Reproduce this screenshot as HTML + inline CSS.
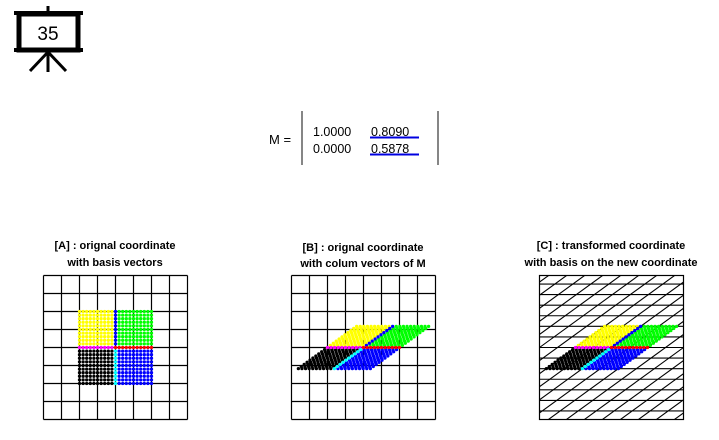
<!DOCTYPE html>
<html><head><style>
body{margin:0;background:#fff;width:719px;height:435px;overflow:hidden;font-family:"Liberation Sans",sans-serif}
</style></head><body>
<svg id="s" width="719" height="435" xmlns="http://www.w3.org/2000/svg">
<rect width="719" height="435" fill="#fff"/>
<g stroke="#000" fill="none">
<rect x="19" y="14" width="59" height="36" stroke-width="5"/>
<line x1="14" y1="13" x2="83" y2="13" stroke-width="4"/>
<line x1="14" y1="50" x2="83" y2="50" stroke-width="4"/>
<line x1="48" y1="6" x2="48" y2="12" stroke-width="3"/>
<line x1="48" y1="50" x2="48" y2="72" stroke-width="3"/>
<line x1="48" y1="52" x2="30" y2="71" stroke-width="3"/>
<line x1="48" y1="52" x2="66" y2="71" stroke-width="3"/>
</g>
<text x="48" y="40" font-size="19" text-anchor="middle">35</text>
<text x="269" y="144" font-size="13">M =</text>
<line x1="302" y1="111" x2="302" y2="165" stroke="#444" stroke-width="1.3"/>
<line x1="438" y1="111" x2="438" y2="165" stroke="#444" stroke-width="1.3"/>
<text x="313" y="136" font-size="12.5">1.0000</text>
<text x="371" y="136" font-size="12.5">0.8090</text>
<text x="313" y="153" font-size="12.5">0.0000</text>
<text x="371" y="153" font-size="12.5">0.5878</text>
<line x1="370" y1="137.5" x2="419" y2="137.5" stroke="#0000e0" stroke-width="2"/>
<line x1="370" y1="154.5" x2="419" y2="154.5" stroke="#0000e0" stroke-width="2"/>
<g font-size="11" font-weight="bold" text-anchor="middle" font-family="Liberation Sans Narrow, Liberation Sans, sans-serif">
<text x="115" y="249">[A] : orignal coordinate</text>
<text x="115" y="266">with basis vectors</text>
<text x="363" y="251">[B] : orignal coordinate</text>
<text x="363" y="267">with colum vectors of M</text>
<text x="611" y="249">[C] : transformed coordinate</text>
<text x="611" y="266">with basis on the new coordinate</text>
</g>
<defs><clipPath id="cc"><rect x="539.5" y="275.5" width="144" height="144"/></clipPath></defs>
<g id="plots"></g>
</svg>
<script>
var NS="http://www.w3.org/2000/svg",g=document.getElementById("plots"),S=18;
function el(t,a,p){var e=document.createElementNS(NS,t);for(var k in a)e.setAttribute(k,a[k]);(p||g).appendChild(e);return e;}
var a=0.809,b=0.5878;
function grid(cx,cy){for(var i=-4;i<=4;i++){el("line",{x1:cx+i*S,y1:cy-72,x2:cx+i*S,y2:cy+72,stroke:"#000","stroke-width":1.2});el("line",{x1:cx-72,y1:cy+i*S,x2:cx+72,y2:cy+i*S,stroke:"#000","stroke-width":1.2});}}
grid(115.5,347.5);grid(363.5,347.5);
var cg=el("g",{"clip-path":"url(#cc)"});var cx=611.5,cy=347.5;
for(var k=-8;k<=8;k++){el("line",{x1:cx-80,y1:cy-k*b*S,x2:cx+80,y2:cy-k*b*S,stroke:"#000","stroke-width":1.1},cg);}
for(var k=-12;k<=12;k++){var t=10;el("line",{x1:cx+(k-a*t)*S,y1:cy+b*t*S,x2:cx+(k+a*t)*S,y2:cy-b*t*S,stroke:"#000","stroke-width":1.1},cg);}
el("rect",{x:539.5,y:275.5,width:144,height:144,fill:"none",stroke:"#000","stroke-width":1.2});
function col(x,y){if(Math.abs(y)<1e-6)return x<0?"#f0f":"#f00";if(Math.abs(x)<1e-6)return y>0?"#00f":"#0ff";
if(x<0&&y>0)return "#ff0";if(x>0&&y>0)return "#0f0";if(x<0&&y<0)return "#000";return "#00f";}
function dots(cx,cy,tr){var L=[];for(var i=-10;i<=10;i++)for(var j=-10;j<=10;j++){var x=i/5,y=j/5;var c=col(x,y);var pri=(Math.abs(x)<1e-6||Math.abs(y)<1e-6)?1:0;L.push([x,y,c,pri]);}
L.sort(function(p,q){return p[3]-q[3];});
L.forEach(function(p){var X=p[0],Y=p[1];if(tr){X=p[0]+a*p[1];Y=b*p[1];}el("circle",{cx:cx+X*S,cy:cy-Y*S,r:1.65,fill:p[2]});});}
dots(115.5,347.5,false);dots(363.5,347.5,true);dots(611.5,347.5,true);
</script>
</body></html>
